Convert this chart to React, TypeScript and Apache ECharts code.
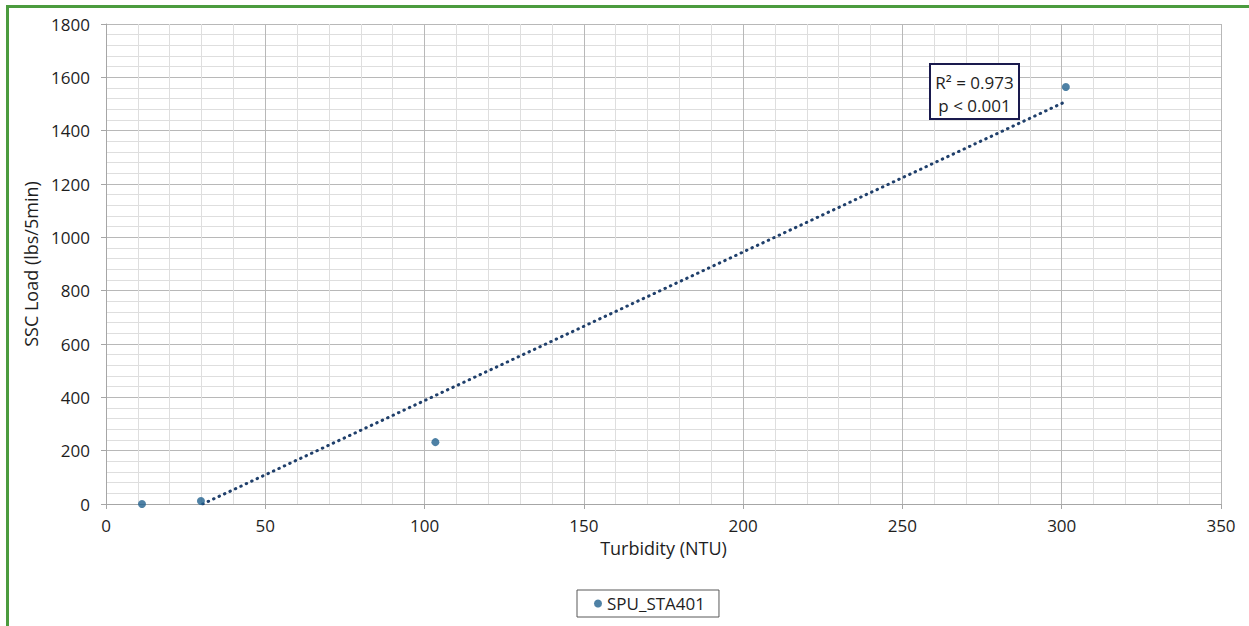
import React, { useEffect, useRef } from "react";
import * as echarts from "echarts";

const turbidity = [11.3, 29.8, 103.4, 301.3];
const sscLoad = [0, 11, 232, 1564];
const seriesName = "SPU_STA401";
const xTitle = "Turbidity (NTU)";
const yTitle = "SSC Load (lbs/5min)";
const statLines = ["R² = 0.973", "p < 0.001"];

function fitLine(xs: number[], ys: number[]) {
  const n = xs.length;
  const mx = xs.reduce((a, b) => a + b, 0) / n;
  const my = ys.reduce((a, b) => a + b, 0) / n;
  let sxx = 0, sxy = 0;
  for (let i = 0; i < n; i++) {
    sxx += (xs[i] - mx) ** 2;
    sxy += (xs[i] - mx) * (ys[i] - my);
  }
  const a = sxy / sxx;
  const b = my - a * mx;
  return { a, b };
}

export default function App() {
  const ref = useRef<HTMLDivElement>(null);
  useEffect(() => {
    document.body.style.margin = "0";
    const chart = echarts.init(ref.current!, undefined, { renderer: "svg" });
    const { a, b } = fitLine(turbidity, sscLoad);
    const x0 = Math.max(Math.min(...turbidity), -b / a);
    const x1 = Math.max(...turbidity);
    const trend = [
      [x0, a * x0 + b],
      [x1, a * x1 + b],
    ];
    const font = "'Open Sans', sans-serif";
    const txt = "#1e1e1e";
    chart.setOption({
      animation: false,
      backgroundColor: "#ffffff",
      textStyle: { fontFamily: font },
      grid: { left: 106, right: 28, top: 24, bottom: 122, containLabel: false },
      xAxis: {
        type: "value",
        min: 0,
        max: 350,
        interval: 50,
        name: xTitle,
        nameLocation: "middle",
        nameGap: 35,
        nameTextStyle: { fontSize: 18, color: txt, fontFamily: font },
        axisLine: { show: true, onZero: false, lineStyle: { color: "#a6a6a6", width: 1 } },
        axisTick: { show: true, length: 5, lineStyle: { color: "#a6a6a6" } },
        axisLabel: { fontSize: 17, color: txt, margin: 13, fontFamily: font, formatter: (v: number) => String(v) },
        splitLine: { show: true, lineStyle: { color: "#b8b8b8", width: 1 } },
        minorTick: { show: false, splitNumber: 5 },
        minorSplitLine: { show: true, lineStyle: { color: "#dedede", width: 1 } },
      },
      yAxis: {
        type: "value",
        min: 0,
        max: 1800,
        interval: 200,
        name: yTitle,
        nameLocation: "middle",
        nameGap: 65,
        nameRotate: 90,
        nameTextStyle: { fontSize: 18, color: txt, fontFamily: font },
        axisLine: { show: true, lineStyle: { color: "#a6a6a6", width: 1 } },
        axisTick: { show: true, length: 5, lineStyle: { color: "#a6a6a6" } },
        axisLabel: { fontSize: 17, color: txt, margin: 16, fontFamily: font, formatter: (v: number) => String(v) },
        splitLine: { show: true, lineStyle: { color: "#b8b8b8", width: 1 } },
        minorTick: { show: false, splitNumber: 5 },
        minorSplitLine: { show: true, lineStyle: { color: "#dedede", width: 1 } },
      },
      legend: {
        data: [seriesName],
        left: 577,
        top: 590,
        orient: "horizontal",
        padding: [5, 14, 5, 17],
        borderColor: "#595959",
        borderWidth: 1,
        itemWidth: 8,
        itemHeight: 8,
        itemGap: 5,
        icon: "circle",
        textStyle: { fontSize: 17, color: txt, fontFamily: font },
      },
      series: [
        {
          name: "trend",
          type: "line",
          data: trend,
          symbol: "none",
          silent: true,
          z: 2,
          lineStyle: {
            color: "#1f3f6b",
            width: 3,
            type: [0.5, 5.5],
            cap: "round",
          },
        },
        {
          name: seriesName,
          type: "scatter",
          data: turbidity.map((x, i) => [x, sscLoad[i]]),
          symbol: "circle",
          symbolSize: 8,
          z: 3,
          itemStyle: { color: "#22618e" },
        },
      ],
      graphic: [
        { type: "rect", z: 100, shape: { x: 6, y: 5, width: 3, height: 621 }, style: { fill: "#4b9b3e" } },
        { type: "rect", z: 100, shape: { x: 6, y: 5, width: 1243, height: 3 }, style: { fill: "#4b9b3e" } },
        {
          type: "group",
          left: 929,
          top: 63,
          z: 100,
          children: [
            {
              type: "rect",
              z: 100,
              shape: { x: 0, y: 0, width: 89, height: 55 },
              style: { fill: "#ffffff", stroke: "#1a1a4e", lineWidth: 2 },
            },
            {
              type: "text",
              z: 101,
              style: {
                x: 44.5,
                y: 18,
                text: statLines[0],
                align: "center",
                verticalAlign: "middle",
                fontSize: 17,
                fontFamily: font,
                fill: txt,
              },
            },
            {
              type: "text",
              z: 101,
              style: {
                x: 44.5,
                y: 41,
                text: statLines[1],
                align: "center",
                verticalAlign: "middle",
                fontSize: 17,
                fontFamily: font,
                fill: txt,
              },
            },
          ],
        },
      ],
    });
    return () => chart.dispose();
  }, []);
  return <div ref={ref} style={{ width: 1249, height: 626 }} />;
}
